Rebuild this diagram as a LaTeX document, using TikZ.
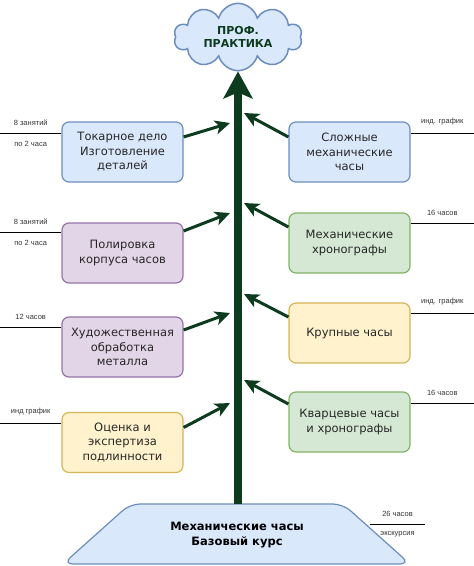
\documentclass[tikz,border=0pt]{standalone}
\usepackage{fontspec}
\setmainfont{DejaVu Sans}
\newfontfamily\notefont{Liberation Sans}
\usetikzlibrary{shapes.symbols,arrows.meta}
\definecolor{stemgreen}{HTML}{0D3B1E}
\definecolor{blueback}{HTML}{DAE8FC}
\definecolor{blueline}{HTML}{6C8EBF}
\definecolor{lilacback}{HTML}{E1D5E7}
\definecolor{lilacline}{HTML}{9673A6}
\definecolor{greenback}{HTML}{D5E8D4}
\definecolor{greenline}{HTML}{82B366}
\definecolor{sandback}{HTML}{FFF2CC}
\definecolor{sandline}{HTML}{D6B656}
\tikzset{
  course/.style={draw, rounded corners=7pt, line width=1.2pt, minimum width=121pt,
    minimum height=60pt, align=center, inner sep=2pt, text=black!85,
    font=\fontsize{11.5}{14.5}\selectfont},
  bluecourse/.style={course, fill=blueback, draw=blueline},
  lilaccourse/.style={course, fill=lilacback, draw=lilacline},
  greencourse/.style={course, fill=greenback, draw=greenline},
  sandcourse/.style={course, fill=sandback, draw=sandline},
  branch/.style={stemgreen, line width=3pt, -{Stealth[length=15pt,width=14pt,inset=4pt]}},
  stem/.style={stemgreen, line width=8pt, -{Stealth[length=27pt,width=29pt,inset=6pt]}},
  leg/.style={line width=1pt},
  note/.style={font=\notefont\fontsize{7.5}{9}\selectfont, text=black!80},
}
\begin{document}
\begin{tikzpicture}[x=1pt,y=-1pt]
  \useasboundingbox (0,0) rectangle (474,566);
  % goal and base
  \node[cloud, draw=blueline, fill=blueback, line width=1.5pt, cloud puffs=10,
    aspect=2.1, minimum width=128pt, minimum height=60pt, inner sep=0pt,
    align=center, text=stemgreen, font=\bfseries\fontsize{11}{13.5}\selectfont]
    (goal) at (238,37) {ПРОФ.\\ПРАКТИКА};
  \draw[blueline, fill=blueback, line width=1.2pt, rounded corners=10pt]
    (63,564) -- (130,504) -- (343,504) -- (410,564) -- cycle;
  \node[align=center, font=\bfseries\fontsize{11.5}{15}\selectfont] (base) at (237,535)
    {Механические часы\\Базовый курс};
  \coordinate (basetop) at (238,504);
  % left courses
  \node[bluecourse] (l1) at (122.5,152) {Токарное дело\\Изготовление\\деталей};
  \node[lilaccourse] (l2) at (122.5,253) {Полировка\\корпуса часов};
  \node[lilaccourse] (l3) at (122.5,347) {Художественная\\обработка\\металла};
  \node[sandcourse] (l4) at (122.5,442.5) {Оценка и\\экспертиза\\подлинности};
  % right courses
  \node[bluecourse] (r1) at (349.5,152) {Сложные\\механические\\часы};
  \node[greencourse] (r2) at (349.5,243) {Механические\\хронографы};
  \node[sandcourse] (r3) at (349.5,333) {Крупные часы};
  \node[greencourse] (r4) at (349.5,422) {Кварцевые часы\\и хронографы};
  % stem
  \draw[stem] (basetop) -- (goal.south);
  % branch tips
  \coordinate (tl1) at (230,123);
  \coordinate (tl2) at (230,213);
  \coordinate (tl3) at (230,313);
  \coordinate (tl4) at (230,403);
  \coordinate (tr1) at (244,113);
  \coordinate (tr2) at (244,203);
  \coordinate (tr3) at (244,294);
  \coordinate (tr4) at (244,380);
  \draw[branch] ([yshift=15pt]l1.east) -- (tl1);
  \draw[branch] ([yshift=22pt]l2.east) -- (tl2);
  \draw[branch] ([yshift=17pt]l3.east) -- (tl3);
  \draw[branch] ([yshift=15pt]l4.east) -- (tl4);
  \draw[branch] ([yshift=15pt]r1.west) -- (tr1);
  \draw[branch] ([yshift=16pt]r2.west) -- (tr2);
  \draw[branch] ([yshift=16pt]r3.west) -- (tr3);
  \draw[branch] ([yshift=18pt]r4.west) -- (tr4);
  % hours
  \coordinate (ml1) at (0,133);
  \coordinate (ml2) at (0,232);
  \coordinate (ml3) at (0,327);
  \coordinate (ml4) at (0,423);
  \coordinate (mr1) at (474,133);
  \coordinate (mr2) at (474,223);
  \coordinate (mr3) at (474,313);
  \coordinate (mr4) at (474,403);
  \coordinate (mb) at (425,524);
  \draw[leg] (ml1) -- (ml1 -| l1.west) node[midway,above=4pt,note]{8 занятий}
    node[midway,below=4pt,note]{по 2 часа};
  \draw[leg] (ml2) -- (ml2 -| l2.west) node[midway,above=4pt,note]{8 занятий}
    node[midway,below=4pt,note]{по 2 часа};
  \draw[leg] (ml3) -- (ml3 -| l3.west) node[midway,above=4pt,note]{12 часов};
  \draw[leg] (ml4) -- (ml4 -| l4.west) node[midway,above=4pt,note]{инд график};
  \draw[leg] (r1.east |- mr1) -- (mr1) node[midway,above=4pt,note]{инд. график};
  \draw[leg] (r2.east |- mr2) -- (mr2) node[midway,above=4pt,note]{16 часов};
  \draw[leg] (r3.east |- mr3) -- (mr3) node[midway,above=4pt,note]{инд. график};
  \draw[leg] (r4.east |- mr4) -- (mr4) node[midway,above=4pt,note]{16 часов};
  \draw[leg] (370,524) -- (mb) node[midway,above=4pt,note]{26 часов}
    node[midway,below=4pt,note]{экскурсия};
\end{tikzpicture}
\end{document}
